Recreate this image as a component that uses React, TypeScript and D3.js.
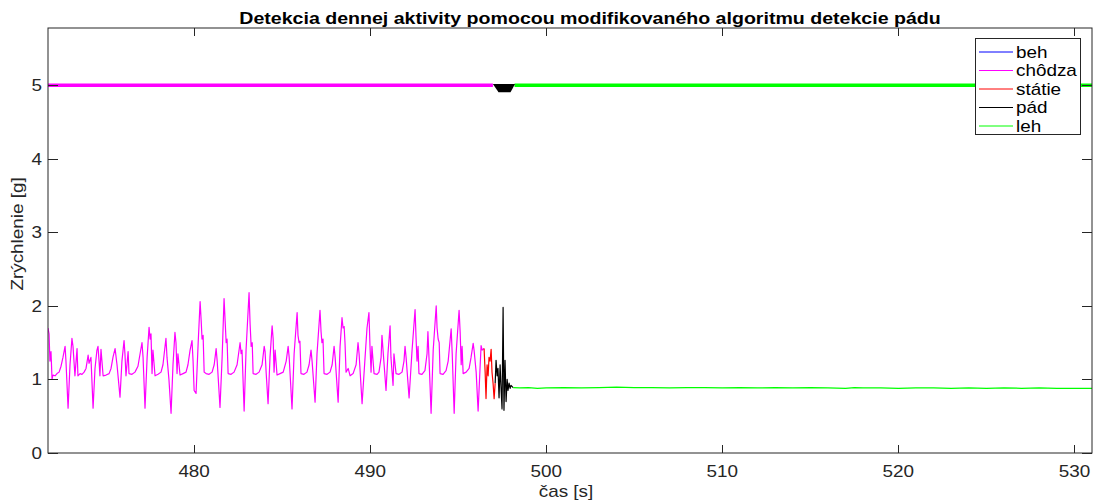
import React, { useEffect, useRef } from "react";
import * as d3 from "d3";

const xTicks = [480, 490, 500, 510, 520, 530];
const yTicks = [0, 1, 2, 3, 4, 5];
const legendLabels = ["beh", "chôdza", "státie", "pád", "leh"];
const legendColors = ["#0000ff", "#ff00ff", "#ff0000", "#000000", "#00ff00"];

// [cas s, zrychlenie g]
const chodza: [number, number][] = [
  [471.7, 1.7], [471.76, 1.62], [471.81, 1.25], [471.87, 1.38], [471.93, 1.0], [471.98, 1.06],
  [472.1, 1.05], [472.21, 1.08], [472.33, 1.1], [472.44, 1.18], [472.55, 1.3], [472.67, 1.45],
  [472.72, 1.25], [472.84, 0.61], [472.95, 1.2], [473.06, 1.56], [473.12, 1.45], [473.23, 1.05],
  [473.35, 1.42], [473.4, 1.05], [473.52, 1.08], [473.63, 1.07], [473.75, 1.1], [473.86, 1.15],
  [473.98, 1.33], [474.03, 1.22], [474.14, 1.3], [474.26, 0.61], [474.37, 1.15], [474.48, 1.4],
  [474.54, 1.45], [474.6, 1.25], [474.65, 1.05], [474.71, 1.41], [474.83, 1.05], [475.0, 1.06],
  [475.17, 1.08], [475.28, 1.15], [475.39, 1.3], [475.51, 1.42], [475.62, 1.2], [475.79, 0.76],
  [475.9, 1.25], [476.02, 1.53], [476.07, 1.35], [476.13, 1.05], [476.25, 1.38], [476.3, 1.08],
  [476.47, 1.07], [476.64, 1.1], [476.81, 1.18], [476.93, 1.35], [477.04, 1.5], [477.1, 1.3],
  [477.21, 0.61], [477.33, 1.3], [477.44, 1.71], [477.5, 1.55], [477.55, 1.62], [477.61, 1.08],
  [477.66, 1.4], [477.78, 1.05], [477.95, 1.07], [478.12, 1.1], [478.23, 1.2], [478.4, 1.56],
  [478.46, 1.3], [478.57, 1.0], [478.69, 0.54], [478.8, 1.2], [478.91, 1.64], [478.97, 1.5],
  [479.03, 1.08], [479.08, 1.35], [479.2, 1.06], [479.37, 1.08], [479.54, 1.1], [479.65, 1.2],
  [479.77, 1.4], [479.88, 1.53], [479.94, 1.25], [480.0, 0.85], [480.11, 0.81], [480.23, 1.5],
  [480.34, 2.06], [480.4, 1.8], [480.45, 1.55], [480.51, 1.6], [480.57, 1.1], [480.68, 1.08],
  [480.85, 1.07], [481.02, 1.1], [481.14, 1.2], [481.25, 1.42], [481.31, 1.25], [481.47, 0.62],
  [481.59, 1.3], [481.7, 2.1], [481.76, 1.8], [481.82, 1.5], [481.87, 1.55], [481.93, 1.08],
  [482.1, 1.07], [482.27, 1.1], [482.44, 1.2], [482.61, 1.5], [482.67, 1.35], [482.72, 1.4],
  [482.84, 0.57], [482.95, 1.4], [483.12, 2.18], [483.18, 1.75], [483.24, 1.45], [483.3, 1.5],
  [483.35, 1.08], [483.52, 1.07], [483.69, 1.1], [483.86, 1.2], [483.98, 1.45], [484.03, 1.38],
  [484.09, 1.1], [484.2, 0.67], [484.31, 1.3], [484.43, 1.73], [484.49, 1.55], [484.54, 1.1],
  [484.6, 1.4], [484.71, 1.06], [484.88, 1.08], [485.06, 1.1], [485.23, 1.25], [485.34, 1.45],
  [485.4, 1.3], [485.56, 0.6], [485.68, 1.35], [485.85, 1.91], [485.9, 1.6], [485.96, 1.5],
  [486.01, 1.52], [486.07, 1.08], [486.24, 1.07], [486.41, 1.1], [486.53, 1.2], [486.64, 1.4],
  [486.7, 1.25], [486.87, 0.69], [486.98, 1.35], [487.15, 1.94], [487.21, 1.65], [487.26, 1.5],
  [487.32, 1.55], [487.38, 1.08], [487.55, 1.07], [487.72, 1.1], [487.84, 1.2], [487.95, 1.45],
  [488.01, 1.3], [488.18, 0.69], [488.29, 1.45], [488.4, 1.84], [488.46, 1.7], [488.52, 1.72],
  [488.57, 1.5], [488.63, 1.1], [488.75, 1.15], [488.86, 1.05], [489.03, 1.08], [489.2, 1.2],
  [489.31, 1.5], [489.37, 1.35], [489.54, 0.67], [489.71, 1.3], [489.82, 1.7], [489.93, 1.91],
  [489.99, 1.45], [490.05, 1.1], [490.1, 1.45], [490.22, 1.08], [490.39, 1.07], [490.5, 1.1],
  [490.62, 1.3], [490.67, 1.6], [490.73, 1.4], [490.9, 0.85], [491.01, 1.35], [491.13, 1.73],
  [491.18, 1.3], [491.3, 0.92], [491.35, 1.35], [491.47, 1.08], [491.64, 1.07], [491.81, 1.1],
  [491.92, 1.25], [491.98, 1.45], [492.04, 1.3], [492.21, 0.75], [492.38, 1.4], [492.55, 1.95],
  [492.6, 1.6], [492.66, 1.25], [492.72, 1.45], [492.77, 1.08], [492.94, 1.07], [493.11, 1.12],
  [493.23, 1.35], [493.28, 1.65], [493.34, 1.3], [493.46, 0.54], [493.58, 1.4], [493.75, 2.0],
  [493.8, 1.7], [493.86, 1.55], [493.92, 1.5], [493.97, 1.08], [494.14, 1.07], [494.31, 1.12],
  [494.43, 1.25], [494.6, 1.69], [494.66, 1.35], [494.77, 0.54], [494.88, 1.35], [495.05, 1.94],
  [495.11, 1.65], [495.17, 1.2], [495.22, 1.45], [495.28, 1.08], [495.45, 1.1], [495.62, 1.15],
  [495.73, 1.3], [495.85, 1.49], [495.9, 1.4], [496.02, 1.1], [496.13, 0.57], [496.25, 1.2],
  [496.3, 1.46], [496.36, 1.4], [496.47, 1.42],
];

const statie: [number, number][] = [
  [496.47, 1.42], [496.53, 1.1], [496.58, 0.74], [496.64, 1.2], [496.7, 1.05], [496.75, 1.3],
  [496.81, 1.25], [496.87, 1.41], [496.92, 1.1], [496.98, 0.95], [497.04, 0.74], [497.1, 0.95],
];

const pad: [number, number][] = [
  [497.1, 0.95], [497.15, 1.26], [497.21, 1.05], [497.26, 1.15], [497.32, 0.75], [497.38, 1.2],
  [497.43, 0.9], [497.49, 0.6], [497.55, 1.98], [497.6, 0.58], [497.66, 1.26], [497.72, 0.7],
  [497.78, 1.0], [497.83, 0.85], [497.89, 0.95], [497.95, 0.88], [498.0, 0.92], [498.12, 0.89],
];

const leh: [number, number][] = [
  [498.12, 0.89], [498.5, 0.885], [499, 0.89], [499.5, 0.88], [500, 0.885], [501, 0.89],
  [502, 0.885], [503, 0.89], [504, 0.895], [505, 0.89], [506, 0.89], [507, 0.885],
  [508, 0.89], [509, 0.89], [510, 0.885], [511, 0.89], [512, 0.885], [513, 0.89],
  [514, 0.885], [515, 0.89], [516, 0.885], [517, 0.88], [517.5, 0.89], [518, 0.885],
  [519, 0.885], [520, 0.88], [521, 0.885], [522, 0.885], [523, 0.88], [524, 0.885],
  [525, 0.88], [526, 0.885], [527, 0.88], [528, 0.885], [529, 0.88], [530, 0.88], [531, 0.88],
];

// indikator stavu na urovni 5
const chodzaState: [number, number][] = [[471.7, 5], [496.97, 5]];
const lehState: [number, number][] = [[498.2, 5], [531, 5]];
const padState: [number, number][] = [[496.97, 5.02], [498.23, 5.02], [497.97, 4.905], [497.29, 4.905]];

const xDomain = [471.7, 531];
const yDomain = [0, 5.78];

const SX = 1.18; // horizontal stretch of the exported figure text
const FONT = "'Liberation Sans', Arial, Helvetica, sans-serif";

function Chart() {
  const ref = useRef<SVGSVGElement>(null);
  const width = 1094;
  const height = 501;
  const m = { left: 48, right: 1092, top: 28, bottom: 453 };

  useEffect(() => {
    const svg = d3.select(ref.current);
    svg.selectAll("*").remove();

    const x = d3.scaleLinear().domain(xDomain).range([m.left, m.right]);
    const y = d3.scaleLinear().domain(yDomain).range([m.bottom, m.top]);

    const text = (px: number, py: number, s: string, anchor: string, size: number, weight = "normal", fill = "#262626") =>
      svg
        .append("text")
        .attr("transform", `translate(${px},${py}) scale(${SX},1)`)
        .attr("text-anchor", anchor)
        .style("font-family", FONT)
        .style("font-size", size + "px")
        .style("font-weight", weight)
        .style("fill", fill)
        .text(s);

    svg.append("defs").append("clipPath").attr("id", "plotclip")
      .append("rect").attr("x", m.left).attr("y", m.top)
      .attr("width", m.right - m.left).attr("height", m.bottom - m.top);

    const plot = svg.append("g").attr("clip-path", "url(#plotclip)");
    const line = d3.line<[number, number]>().x((d) => x(d[0])).y((d) => y(d[1]));

    // state indicator
    plot.append("path").attr("d", line(chodzaState)).attr("fill", "none")
      .attr("stroke", "#ff00ff").attr("stroke-width", 3.5);
    plot.append("path").attr("d", line(lehState)).attr("fill", "none")
      .attr("stroke", "#00ff00").attr("stroke-width", 3.5);
    plot.append("path").attr("d", line(padState) + "Z").attr("fill", "#000");

    // signal
    const series: [[number, number][], string][] = [
      [chodza, "#ff00ff"], [statie, "#ff0000"], [pad, "#000000"], [leh, "#00ff00"],
    ];
    series.forEach(([d, c]) => {
      plot.append("path").attr("d", line(d)).attr("fill", "none")
        .attr("stroke", c).attr("stroke-width", 1.2).attr("stroke-linejoin", "round");
    });

    // axes box
    const axCol = "#262626";
    svg.append("rect").attr("x", m.left).attr("y", m.top)
      .attr("width", m.right - m.left).attr("height", m.bottom - m.top)
      .attr("fill", "none").attr("stroke", axCol).attr("stroke-width", 1);

    xTicks.forEach((t) => {
      const px = Math.round(x(t)) + 0.5;
      svg.append("line").attr("x1", px).attr("x2", px).attr("y1", m.bottom).attr("y2", m.bottom - 8)
        .attr("stroke", axCol);
      svg.append("line").attr("x1", px).attr("x2", px).attr("y1", m.top).attr("y2", m.top + 8)
        .attr("stroke", axCol);
      text(x(t), 477, String(t), "middle", 16);
    });
    yTicks.forEach((t) => {
      const py = Math.round(y(t)) + 0.5;
      svg.append("line").attr("x1", m.left).attr("x2", m.left + 10).attr("y1", py).attr("y2", py)
        .attr("stroke", axCol);
      svg.append("line").attr("x1", m.right).attr("x2", m.right - 10).attr("y1", py).attr("y2", py)
        .attr("stroke", axCol);
      text(42, y(t) + 6, String(t), "end", 16);
    });

    text(590, 24, "Detekcia dennej aktivity pomocou modifikovaného algoritmu detekcie pádu", "middle", 16.6, "bold", "#000");
    text(566, 497, "čas [s]", "middle", 16);

    svg.append("text")
      .attr("transform", `translate(23,234) rotate(-90) scale(${SX},1)`)
      .attr("text-anchor", "middle")
      .style("font-family", FONT)
      .style("font-size", "16px")
      .style("fill", "#262626")
      .text("Zrýchlenie [g]");

    // legend
    const lg = svg.append("g");
    lg.append("rect").attr("x", 975.5).attr("y", 38.5).attr("width", 105).attr("height", 96)
      .attr("fill", "#fff").attr("stroke", axCol).attr("stroke-width", 1);
    legendLabels.forEach((lab, i) => {
      const ly = 52 + i * 18.5;
      lg.append("line").attr("x1", 979).attr("x2", 1013).attr("y1", ly).attr("y2", ly)
        .attr("stroke", legendColors[i]).attr("stroke-width", 1);
      text(1016, ly + 5.5, lab, "start", 16, "normal", "#000");
    });
  }, []);

  return (
    <svg
      ref={ref}
      width={width}
      height={height}
      style={{ position: "absolute", left: 0, top: 0, background: "#fff" }}
    />
  );
}

export default function App() {
  return <Chart />;
}
